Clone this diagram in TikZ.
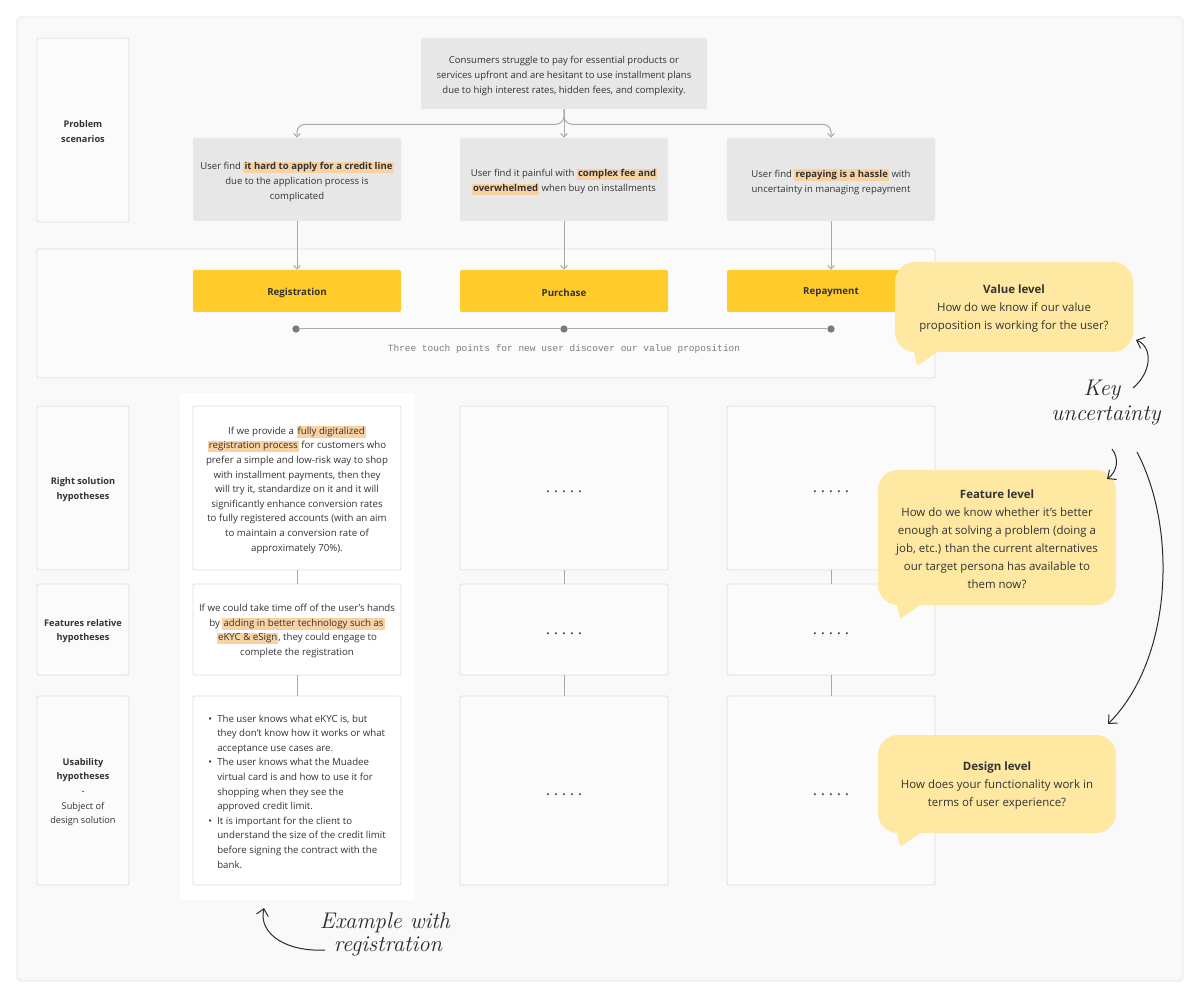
\documentclass[tikz,border=0pt]{standalone}
\usepackage{fontspec}
\usetikzlibrary{arrows.meta,fit}
\newfontfamily\ui{Open Sans}
\newfontfamily\uimono{Liberation Mono}
\definecolor{pagebg}{HTML}{FFFFFF}
\definecolor{panelbg}{HTML}{F9F9F9}
\definecolor{panelline}{HTML}{E4E4E4}
\definecolor{lineg}{HTML}{DDDDDD}
\definecolor{boxbg}{HTML}{FBFBFB}
\definecolor{greyb}{HTML}{E7E7E7}
\definecolor{yelc}{HTML}{FFCC2C}
\definecolor{bubc}{HTML}{FEE8A2}
\definecolor{hlc}{HTML}{F9D2A4}
\definecolor{txt}{HTML}{333333}
\definecolor{conng}{HTML}{A9A9A9}
\definecolor{dotc}{HTML}{7A7A7A}
\definecolor{monoc}{HTML}{7C7C7C}
\definecolor{handc}{HTML}{2A2A2A}
\newcommand\hlb[1]{\begingroup\setlength{\fboxsep}{0.8pt}\colorbox{hlc}{\vphantom{Apy}\textbf{#1}}\endgroup}
\newcommand\hlt[1]{\begingroup\setlength{\fboxsep}{0.8pt}\colorbox{hlc}{\vphantom{Apy}#1}\endgroup}
\newcommand\fivedots{.\hspace{3.6pt}.\hspace{3.6pt}.\hspace{3.6pt}.\hspace{3.6pt}.}
\begin{document}
\begin{tikzpicture}[x=0.75pt,y=-0.75pt,
  lbl/.style={draw=lineg, fill=boxbg, rounded corners=1.5pt, inner sep=0pt, line width=0.6pt},
  lbltxt/.style={font=\ui\fontsize{6.9}{10.9}\selectfont, align=center, text=txt, inner sep=0pt, yshift=-1.2pt},
  greybox/.style={fill=greyb, rounded corners=1pt, inner sep=0pt},
  greytxt/.style={font=\ui\fontsize{7.15}{11.25}\selectfont, align=center, text=txt, inner sep=0pt, yshift=-1.8pt},
  yelbox/.style={fill=yelc, rounded corners=1pt, inner sep=0pt},
  yeltxt/.style={font=\ui\bfseries\fontsize{7.3}{10}\selectfont, text=txt, inner sep=0pt, yshift=-1.2pt},
  hypbox/.style={draw=lineg, fill=white, rounded corners=1.5pt, inner sep=0pt, line width=0.6pt},
  hyptxt/.style={font=\ui\fontsize{7.25}{10.95}\selectfont, align=center, text=txt, inner sep=0pt, yshift=-1.2pt},
  dotbox/.style={draw=lineg, fill=boxbg, rounded corners=1.5pt, inner sep=0pt, line width=0.6pt},
  dottxt/.style={font=\ui\bfseries\fontsize{8.5}{10}\selectfont, text=txt, inner sep=0pt, yshift=-3pt},
  bubble/.style={fill=bubc, rounded corners=15pt, inner sep=0pt},
  bubtxt/.style={font=\ui\fontsize{8.6}{13.5}\selectfont, align=center, text=txt, inner sep=0pt, yshift=-1.5pt},
  conn/.style={draw=conng, line width=0.75pt},
  carrow/.style={conn, -{Straight Barb[length=2.6pt,width=5pt]}},
  tdot/.style={circle, fill=dotc, inner sep=0pt, minimum size=5.5pt},
  hand/.style={font=\itshape\fontsize{17}{19}\selectfont, text=handc},
  handarrow/.style={draw=handc, line width=0.75pt, -{Straight Barb[length=5pt,width=9pt]}}
]
\useasboundingbox (0,0) rectangle (1200,998);
\fill[pagebg] (0,0) rectangle (1200,998);
\draw[panelline, fill=panelbg, rounded corners=3pt, line width=0.6pt] (17,17) rectangle (1183,981);

% left labels
\node[lbl, fit={(37,38) (129,222)}] (lp) {};
\node[lbltxt] (lpt) at (lp.center) {\textbf{Problem}\\\textbf{scenarios}};
\node[lbl, fit={(37,406) (129,570)}] (lr) {};
\node[lbltxt] (lrt) at (lr.center) {\textbf{Right solution}\\\textbf{hypotheses}};
\node[lbl, fit={(37,584) (129,675)}] (lf) {};
\node[lbltxt] (lft) at (lf.center) {\textbf{Features relative}\\\textbf{hypotheses}};
\node[lbl, fit={(37,696) (129,885)}] (lu) {};
\node[lbltxt] (lut) at (lu.center) {\textbf{Usability}\\\textbf{hypotheses}\\-\\Subject of\\design solution};

% top problem
\node[greybox, fit={(421,38) (707,109)}] (top) {};
\node[greytxt] (topt) at (top.center) {Consumers struggle to pay for essential products or\\services upfront and are hesitant to use installment plans\\due to high interest rates, hidden fees, and complexity.};
\node[greybox, fit={(193,138) (401,221)}] (s1) {};
\node[greytxt] (s1t) at (s1.center) {User find \hlb{it hard to apply for a credit line}\\due to the application process is\\complicated};
\node[greybox, fit={(460,138) (668,221)}] (s2) {};
\node[greytxt] (s2t) at (s2.center) {User find it painful with \hlb{complex fee and}\\\hlb{overwhelmed} when buy on installments};
\node[greybox, fit={(727,138) (935,221)}] (s3) {};
\node[greytxt] (s3t) at (s3.center) {User find \hlb{repaying is a hassle} with\\uncertainty in managing repayment};

\draw[carrow, rounded corners=6pt] (top.south) -- ++(0,15) -| (s1.north);
\draw[carrow, rounded corners=6pt] (top.south) -- ++(0,15) -| (s3.north);
\draw[carrow] (top.south) -- (s2.north);

% touch point container
\node[draw=lineg, fill=boxbg, rounded corners=1.5pt, line width=0.6pt, inner sep=0pt, fit={(37,249) (935,378)}] (tp) {};
\node[yelbox, fit={(193,270) (401,312)}] (y1) {};
\node[yeltxt] (y1t) at (y1.center) {Registration};
\node[yelbox, fit={(460,270) (668,312)}] (y2) {};
\node[yeltxt] (y2t) at (y2.center) {Purchase};
\node[yelbox, fit={(727,270) (935,312)}] (y3) {};
\node[yeltxt] (y3t) at (y3.center) {Repayment};
\draw[carrow] (s1.south) -- (y1.north);
\draw[carrow] (s2.south) -- (y2.north);
\draw[carrow] (s3.south) -- (y3.north);
\node[tdot] (d1) at (296,329) {};
\node[tdot] (d2) at (564,329) {};
\node[tdot] (d3) at (831,329) {};
\draw[conn] (d1) -- (d2);
\draw[conn] (d2) -- (d3);
\node[font=\uimono\fontsize{7.1}{9}\selectfont, text=monoc] (tpt) at (564,349) {Three touch points for new user discover our value proposition};

% example column
\fill[white, rounded corners=3pt] (180,393) rectangle (415,900);
\node[hypbox, fit={(193,406) (401,570)}] (h1) {};
\node[hyptxt] (h1t) at (h1.center) {If we provide a \hlt{fully digitalized}\\\hlt{registration process} for customers who\\prefer a simple and low-risk way to shop\\with installment payments, then they\\will try it, standardize on it and it will\\significantly enhance conversion rates\\to fully registered accounts (with an aim\\to maintain a conversion rate of\\approximately 70\%).};
\node[hypbox, fit={(193,584) (401,675)}] (h2) {};
\node[hyptxt] (h2t) at (h2.center) {If we could take time off of the user’s hands\\by \hlt{adding in better technology such as}\\\hlt{eKYC \& eSign}, they could engage to\\complete the registration};
\node[hypbox, fit={(193,696) (401,885)}] (h3) {};
\node[hyptxt, align=left] (h3t) at (h3.center) {\renewcommand{\arraystretch}{1.0}\begin{tabular}{@{}l@{\hspace{4pt}}l@{}}
\textbullet & The user knows what eKYC is, but\\
 & they don’t know how it works or what\\
 & acceptance use cases are.\\
\textbullet & The user knows what the Muadee\\
 & virtual card is and how to use it for\\
 & shopping when they see the\\
 & approved credit limit.\\
\textbullet & It is important for the client to\\
 & understand the size of the credit limit\\
 & before signing the contract with the\\
 & bank.
\end{tabular}};
\draw[conn] (h1.south) -- (h2.north);
\draw[conn] (h2.south) -- (h3.north);

% other columns
\node[dotbox, fit={(460,406) (668,570)}] (p1) {};
\node[dottxt] (p1t) at (p1.center) {\fivedots};
\node[dotbox, fit={(460,584) (668,675)}] (p2) {};
\node[dottxt] (p2t) at (p2.center) {\fivedots};
\node[dotbox, fit={(460,696) (668,885)}] (p3) {};
\node[dottxt] (p3t) at (p3.center) {\fivedots};
\node[dotbox, fit={(727,406) (935,570)}] (r1) {};
\node[dottxt] (r1t) at (r1.center) {\fivedots};
\node[dotbox, fit={(727,584) (935,675)}] (r2) {};
\node[dottxt] (r2t) at (r2.center) {\fivedots};
\node[dotbox, fit={(727,696) (935,885)}] (r3) {};
\node[dottxt] (r3t) at (r3.center) {\fivedots};
\draw[conn] (p1.south) -- (p2.north);
\draw[conn] (p2.south) -- (p3.north);
\draw[conn] (r1.south) -- (r2.north);
\draw[conn] (r2.south) -- (r3.north);

% bubbles
\fill[bubc, rounded corners=1.5pt] (913,346) -- (917,366) -- (940,350) -- cycle;
\node[bubble, fit={(895,262) (1133,352)}] (bv) {};
\node[bubtxt] (bvt) at (bv.center) {\textbf{Value level}\\How do we know if our value\\proposition is working for the user?};
\fill[bubc, rounded corners=1.5pt] (896,599) -- (900,619) -- (923,603) -- cycle;
\node[bubble, fit={(878,470) (1116,605)}] (bf) {};
\node[bubtxt] (bft) at (bf.center) {\textbf{Feature level}\\How do we know whether it’s better\\enough at solving a problem (doing a\\job, etc.) than the current alternatives\\our target persona has available to\\them now?};
\fill[bubc, rounded corners=1.5pt] (896,827) -- (900,847) -- (923,831) -- cycle;
\node[bubble, fit={(878,735) (1116,833)}] (bd) {};
\node[bubtxt] (bdt) at (bd.center) {\textbf{Design level}\\How does your functionality work in\\terms of user experience?};

% handwritten notes
\node[hand] (key) at (1102,390) {Key};
\node[hand] (unc) at (1106,415) {uncertainty};
\node[hand] (ex1) at (385,923) {Example with};
\node[hand] (ex2) at (388,946) {registration};

\coordinate (ka) at (1133,388);
\coordinate (kb) at (1136,340);
\coordinate (ua) at (1112,449);
\coordinate (ub) at (1107,479);
\coordinate (la) at (1137,452);
\coordinate (lb) at (1108,724);
\coordinate (ea) at (325,950);
\coordinate (eb) at (264,908);
\draw[handarrow] (ka) .. controls (1152,372) and (1153,347) .. (kb);
\draw[handarrow] (ua) .. controls (1119,458) and (1118,471) .. (ub);
\draw[handarrow] (la) .. controls (1178,530) and (1172,660) .. (lb);
\draw[handarrow] (ea) .. controls (288,952) and (258,935) .. (eb);
\end{tikzpicture}
\end{document}
